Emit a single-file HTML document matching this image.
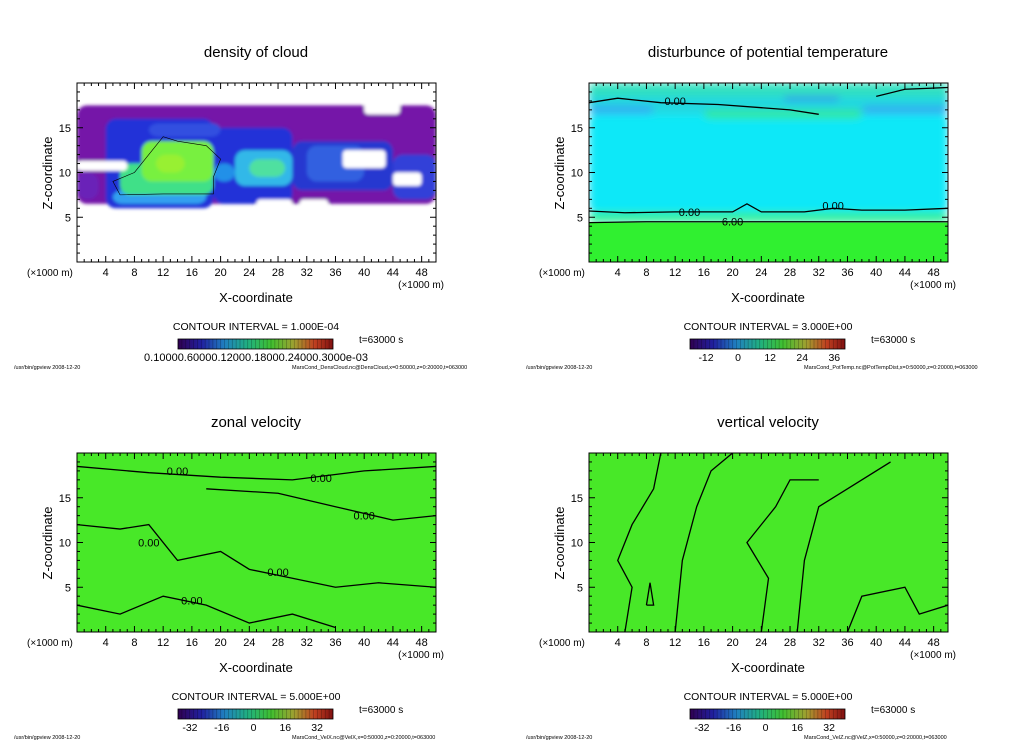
<!DOCTYPE html>
<html><head><meta charset="utf-8">
<style>
html,body{margin:0;padding:0;background:#fff;width:1024px;height:740px;overflow:hidden}
svg{display:block}
text{font-family:"Liberation Sans",sans-serif;fill:#000}
</style></head>
<body>
<svg id="fig" width="1024" height="740" viewBox="0 0 1024 740" xmlns="http://www.w3.org/2000/svg">
<defs>
<filter id="bl" x="-20%" y="-20%" width="140%" height="140%"><feGaussianBlur stdDeviation="4"/></filter>
<filter id="bl1" x="-20%" y="-20%" width="140%" height="140%"><feGaussianBlur stdDeviation="1.5"/></filter>
<linearGradient id="cbar" x1="0" x2="1" y1="0" y2="0">
<stop offset="0" stop-color="#300050"/><stop offset="0.15" stop-color="#2020a0"/>
<stop offset="0.3" stop-color="#2080c0"/><stop offset="0.45" stop-color="#20b080"/>
<stop offset="0.6" stop-color="#40c030"/><stop offset="0.75" stop-color="#a0a030"/>
<stop offset="0.88" stop-color="#c04020"/><stop offset="1" stop-color="#801010"/>
</linearGradient>
<clipPath id="c0"><rect x="77" y="83" width="359" height="179"/></clipPath>
<clipPath id="c1"><rect x="589" y="83" width="359" height="179"/></clipPath>
<clipPath id="c2"><rect x="77" y="453" width="359" height="179"/></clipPath>
<clipPath id="c3"><rect x="589" y="453" width="359" height="179"/></clipPath>
</defs>
</svg>
<script>
// ---- data ----
const xTicks = [4,8,12,16,20,24,28,32,36,40,44,48];
const zTicks = [5,10,15];
const titles = ["density of cloud","disturbunce of potential temperature","zonal velocity","vertical velocity"];
const intervals = ["1.000E-04","3.000E+00","5.000E+00","5.000E+00"];
const files = ["MarsCond_DensCloud.nc@DensCloud,x=0:50000,z=0:20000,t=063000",
 "MarsCond_PotTemp.nc@PotTempDist,x=0:50000,z=0:20000,t=063000",
 "MarsCond_VelX.nc@VelX,x=0:50000,z=0:20000,t=063000",
 "MarsCond_VelZ.nc@VelZ,x=0:50000,z=0:20000,t=063000"];
const cbLabels1 = ["0.10000.60000.12000.18000.24000.3000e-03"];
const cbTicks2 = [-12,0,12,24,36];
const cbTicks34 = [-32,-16,0,16,32];
// field blobs: [x0,x1,z0,z1,color] in data units
const cloudBlobs = [[0,50,6.5,17.5,"#7418a8"],[0,3,7,10,"#6a20b8"],[4,19,6,16,"#2030d8"],[19,30,6.5,15,"#2030d8"],
 [30,44,8,13.5,"#2838d0"],[44,50,7,12,"#3040d8"],[10,20,14,15.5,"#3050e0"],
 [5,18,6.5,8,"#30a0f0"],[6,19,7.5,11,"#40e088"],[9,19,9,13.5,"#78f040"],[11,15,10,12,"#98f030"],
 [22,30,8.5,12.5,"#30b8e8"],[24,29,9.5,11.5,"#50e0a0"],[19,22,9,11,"#2090e8"],[32,40,9,13,"#3060e0"]];
const cloudHoles = [[0,7,10.2,11.3],[37,43,10.5,12.5],[31,35,6,7],[25,30,6,7],[44,48,8.5,10],[40,45,16.5,18]];
const thetaBlobs = [[0,50,0,4.4,"#30f030"],[0,50,4.4,5.6,"#30f0a0"],[0,50,5.6,16.5,"#10e8f8"],
 [0,50,16.5,20,"#20d8e0"],[27,35,18,20,"#3090f0"],[0,9,16.5,17.5,"#30b0f0"],[38,50,16.5,17.5,"#30b0f0"],[16,38,16,17,"#30e8a0"],[0,50,18.5,20,"#30e0c0"]];
const uBlobs = [[0,50,0,20,"#48e828"],[20,40,8,16,"#60f028"],[4,8,0,1,"#c0e020"],[6,16,3,5,"#90e030"],
 [8,12,2,4,"#40d8a0"],[34,50,2,4,"#40e0a0"],[2,8,3,6,"#40d8a0"],[30,40,16,18,"#40d8a0"]];
const wBlobs = [[0,50,0,20,"#48e828"],[7,10,1,6,"#c0e020"],[16,18,1,6,"#a0e830"],[2,6,1,5,"#30d8b0"],
 [26,28,1,5,"#a0e830"],[20,24,1,4,"#40d8a0"],[14,17,10,14,"#70f030"]];
// contours: list of [x,z] points
const thetaC = [[[0,5.7],[5,5.5],[12,5.6],[20,5.6],[22,6.5],[24,5.6],[30,5.6],[34,6],[38,5.8],[44,5.8],[50,6]],
 [[0,4.4],[8,4.5],[20,4.5],[40,4.5],[50,4.5]],
 [[0,17.8],[4,18.3],[10,17.8],[18,17.6],[28,17],[32,16.5]],[[40,18.5],[44,19.3],[50,19.5]]];
const uC = [[[0,18.5],[10,17.8],[20,17.3],[30,17],[40,18],[50,18.5]],[[0,12],[6,11.5],[10,12],[14,8],[20,9],[24,7],[30,6],[36,5],[42,5.5],[50,5]],
 [[0,3],[6,2],[12,4],[18,3],[24,1],[30,2],[36,0.5]],[[18,16],[28,15.5],[36,14],[44,12.5],[50,13]]];
const wC = [[[5,0],[6,5],[4,8],[6,12],[9,16],[10,20]],[[12,0],[13,8],[15,14],[17,18],[20,20]],
 [[24,0],[25,6],[22,10],[26,14],[28,17],[32,17]],[[29,0],[30,8],[32,14],[36,16],[42,19]],
 [[36,0],[38,4],[44,5],[46,2],[50,3]],[[8,3],[8.5,5.5],[9,3],[8,3]]];
const cloudC = [[[6,7.5],[12,7.6],[19,7.6],[19,9.5],[20,11.5],[18,13],[14,13.5],[12,14],[10,12],[8,10],[5,9],[6,7.5]]];
const contours=[cloudC,thetaC,uC,wC];
const fields=[cloudBlobs,thetaBlobs,uBlobs,wBlobs];
const clabels=[[],[[14,5.6,"0.00"],[20,4.5,"6.00"],[12,18,"0.00"],[34,6.3,"0.00"]],
 [[14,18,"0.00"],[34,17.2,"0.00"],[40,13,"0.00"],[28,6.7,"0.00"],[16,3.5,"0.00"],[10,10,"0.00"]],[]];

// ---- drawing ----
const NS="http://www.w3.org/2000/svg";
const svg=document.getElementById('fig');
function mk(tag,attrs,parent){const e=document.createElementNS(NS,tag);for(const k in attrs)e.setAttribute(k,attrs[k]);(parent||svg).appendChild(e);return e;}
function txt(s,x,y,size,anchor,parent){const t=mk('text',{x:x,y:y,'font-size':size,'text-anchor':anchor||'start'},parent);t.textContent=s;return t;}
const W=359,H=179;
[[77,83],[589,83],[77,453],[589,453]].forEach((o,i)=>{
  const [L,T]=o;
  const xs=v=>L+v/50*W, zs=v=>T+H-v/20*H;
  const g=mk('g',{});
  
  
  const t=txt(titles[i],L+179,T-26,15,'middle',g);
  
  
  const f=mk('g',{'clip-path':'url(#c'+i+')'},g);
  
  
  const fb=mk('g',{filter:i==0?'url(#bl1)':'url(#bl)'},f);
  fields[i].forEach((b,j)=>{
    const base=(j==0&&i!=0);
    const r=mk('rect',{x:xs(b[0]),y:zs(b[3]),width:xs(b[1])-xs(b[0]),height:zs(b[2])-zs(b[3]),fill:b[4],rx:base?0:(i==0?10:6)},base?f:fb);
    
    
  });
  if(i==0) cloudHoles.forEach(b=>{
    const r=mk('rect',{x:xs(b[0]),y:zs(b[3]),width:xs(b[1])-xs(b[0]),height:zs(b[2])-zs(b[3]),fill:'#fff',rx:4},fb);
    
    
  });
  contours[i].forEach(c=>{
    const p=mk('polyline',{points:c.map(q=>xs(q[0])+','+zs(q[1])).join(' '),fill:'none',stroke:'#000','stroke-width':i==0?0.6:1.3},f);
    
    
  });
  clabels[i].forEach(c=>{
    const l=txt(c[2],xs(c[0]),zs(c[1])+4,11,'middle',f);
    
    
  });
  const fr=mk('rect',{x:L,y:T,width:W,height:H,fill:'none',stroke:'#000','stroke-width':1},g);
  
  
  for(let v=1;v<50;v++){const len=v%4==0?6:3;
    mk('line',{x1:xs(v),x2:xs(v),y1:T+H,y2:T+H-len,stroke:'#000'},g);
    mk('line',{x1:xs(v),x2:xs(v),y1:T,y2:T+len,stroke:'#000'},g);}
  for(let v=1;v<20;v++){const len=v%5==0?6:3;
    mk('line',{x1:L,x2:L+len,y1:zs(v),y2:zs(v),stroke:'#000'},g);
    mk('line',{x1:L+W,x2:L+W-len,y1:zs(v),y2:zs(v),stroke:'#000'},g);}
  xTicks.forEach(v=>{const l=txt(String(v),xs(v),T+H+14,11,'middle',g);
    
    });
  zTicks.forEach(v=>{const l=txt(String(v),L-6,zs(v)+4,11,'end',g);
    
    });
  const u1=txt('(\u00d71000 m)',L-50,T+H+14,10,'start',g);
  
  
  const u2=txt('(\u00d71000 m)',L+W+8,T+H+26,10,'end',g);
  
  
  const xa=txt('X-coordinate',L+179,T+H+40,13,'middle',g);
  
  
  const za=txt('Z-coordinate',0,0,13,'middle',g);
  za.setAttribute('transform','translate('+(L-25)+','+(T+90)+') rotate(-90)');
  
  
  const ci=txt('CONTOUR INTERVAL = '+intervals[i],L+179,T+H+68,10.5,'middle',g);
  
  
  const cx=L+101,cy=T+H+77;
  const cb=mk('rect',{x:cx,y:cy,width:155,height:10,fill:'url(#cbar)',stroke:'#000','stroke-width':0.8},g);
  
  
  for(let k=1;k<40;k++) mk('line',{x1:cx+k*155/40,x2:cx+k*155/40,y1:cy,y2:cy+10,stroke:'#000','stroke-opacity':0.35,'stroke-width':0.6},g);
  const ts=txt('t=63000 s',L+282,T+H+81,10,'start',g);
  
  
  if(i==0){const l=txt(cbLabels1[0],cx+78,cy+22,11,'middle',g);
    
    }
  else {const arr=i==1?cbTicks2:cbTicks34; const lo=i==1?-18:-38, hi=40;
    arr.forEach(v=>{const l=txt(String(v),cx+(v-lo)/(hi-lo)*155,cy+22,10.5,'middle',g);
      
      });}
  const ft=txt('/usr/bin/gpview   2008-12-20',L-63,T+H+107,5.5,'start',g);
  
  
  const ff=txt(files[i],L+215,T+H+107,5.5,'start',g);
  
  
});
</script>
</body></html>
